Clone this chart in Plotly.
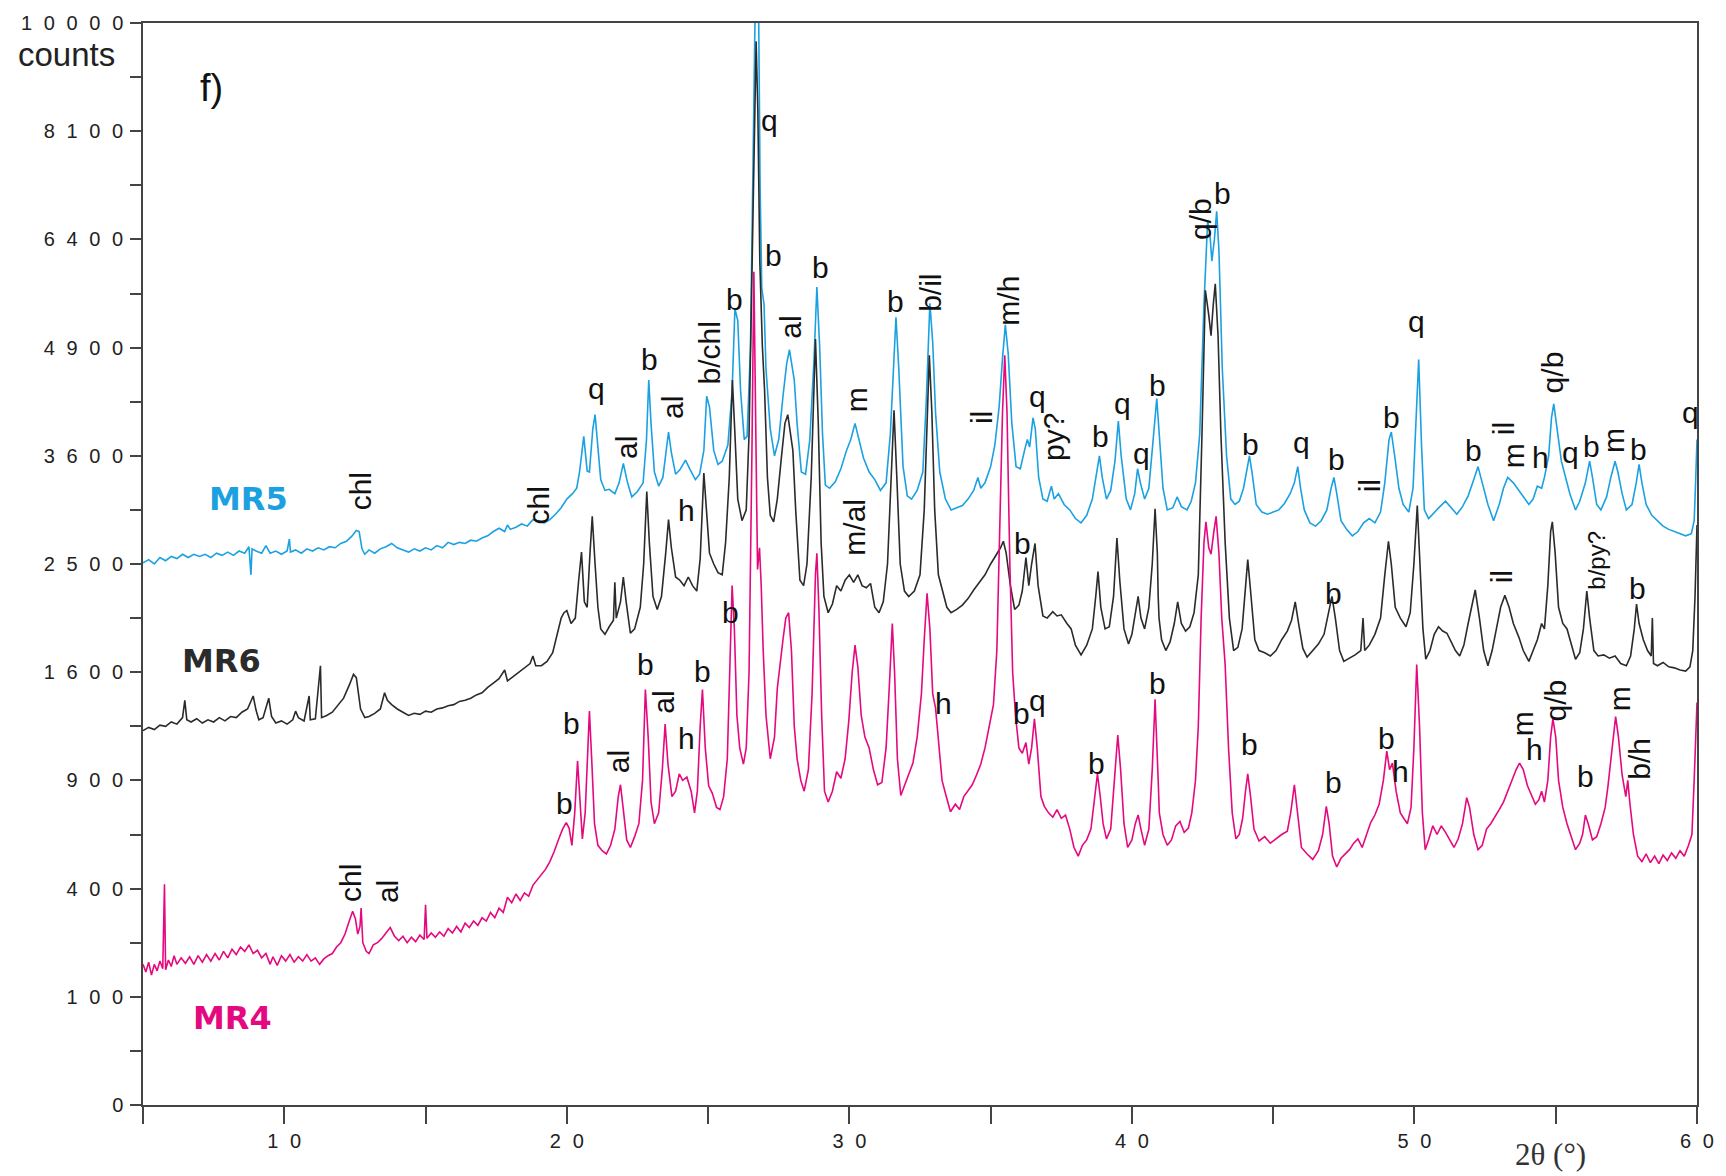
import plotly.graph_objects as go

# 2-theta (deg) and intensity on the square-root scale (sqrt of counts)
mr5 = [(5.0,50.1),(5.2,50.4),(5.4,50.0),(5.6,50.6),(5.8,50.3),(6.0,50.7),(6.2,50.5),(6.4,50.9),(6.6,50.6),(6.8,50.9),(7.0,50.7),(7.2,50.9),(7.4,50.6),(7.6,51.0),(7.8,50.8),(8.0,51.1),(8.2,50.8),(8.4,51.2),(8.6,51.0),(8.75,51.6),(8.82,49.0),(8.86,51.4),(9.0,51.2),(9.2,51.0),(9.35,51.7),(9.5,51.0),(9.7,51.2),(9.9,50.9),(10.1,51.2),(10.18,52.3),(10.22,51.1),(10.4,51.3),(10.6,51.0),(10.8,51.4),(11.0,51.2),(11.2,51.5),(11.4,51.3),(11.6,51.6),(11.8,51.5),(12.0,51.9),(12.2,52.1),(12.4,52.6),(12.55,53.1),(12.65,53.0),(12.75,51.4),(12.85,50.9),(13.0,51.3),(13.2,51.0),(13.4,51.4),(13.6,51.6),(13.8,51.9),(14.0,51.5),(14.2,51.3),(14.4,51.1),(14.6,51.4),(14.8,51.2),(15.0,51.5),(15.2,51.3),(15.4,51.7),(15.6,51.5),(15.8,52.0),(16.0,51.8),(16.2,52.0),(16.4,51.9),(16.6,52.2),(16.8,52.1),(17.0,52.4),(17.2,52.6),(17.4,53.0),(17.6,53.3),(17.8,53.0),(17.9,53.6),(18.0,53.2),(18.2,53.4),(18.4,53.7),(18.6,53.5),(18.8,54.1),(19.0,54.0),(19.2,53.8),(19.4,54.1),(19.6,54.6),(19.8,55.2),(20.0,56.0),(20.2,56.5),(20.35,57.0),(20.45,58.5),(20.6,61.8),(20.72,58.6),(20.8,58.5),(20.92,62.5),(21.0,63.8),(21.1,61.0),(21.2,57.8),(21.35,56.8),(21.5,56.9),(21.7,56.5),(21.85,57.5),(22.0,59.3),(22.15,57.5),(22.3,56.2),(22.5,56.7),(22.7,57.5),(22.82,61.5),(22.9,67.0),(22.98,63.0),(23.1,58.5),(23.25,57.2),(23.4,58.0),(23.52,60.5),(23.6,62.2),(23.7,60.3),(23.85,58.3),(24.0,58.7),(24.2,59.6),(24.35,58.8),(24.55,57.8),(24.7,58.3),(24.85,60.5),(24.95,65.5),(25.05,64.5),(25.2,60.5),(25.35,59.2),(25.5,59.5),(25.7,61.0),(25.85,66.0),(25.95,73.6),(26.05,72.5),(26.15,66.0),(26.28,61.5),(26.38,61.8),(26.5,70.0),(26.6,90.0),(26.68,104.0),(26.78,104.0),(26.84,85.0),(26.9,75.5),(26.98,74.0),(27.05,68.0),(27.2,62.5),(27.35,60.0),(27.5,61.5),(27.65,65.5),(27.78,68.5),(27.88,69.8),(27.95,68.5),(28.05,67.0),(28.15,63.0),(28.3,58.5),(28.45,58.3),(28.6,61.5),(28.75,69.0),(28.85,75.6),(28.95,70.0),(29.05,62.0),(29.15,57.3),(29.3,57.0),(29.5,57.6),(29.7,58.8),(29.9,60.5),(30.05,61.5),(30.2,63.0),(30.3,62.0),(30.5,59.8),(30.7,58.5),(30.9,57.8),(31.1,56.8),(31.3,57.5),(31.45,62.0),(31.58,70.0),(31.65,72.8),(31.75,68.0),(31.9,59.0),(32.05,56.3),(32.2,56.0),(32.4,56.8),(32.6,58.5),(32.72,65.0),(32.85,74.1),(32.95,70.5),(33.05,64.0),(33.2,58.5),(33.4,56.0),(33.6,55.0),(33.8,55.2),(34.0,55.4),(34.2,56.0),(34.4,56.8),(34.55,58.0),(34.65,57.0),(34.8,57.5),(35.0,59.0),(35.15,61.0),(35.3,64.5),(35.42,69.0),(35.52,72.1),(35.62,69.5),(35.75,63.0),(35.9,59.0),(36.05,58.8),(36.2,60.5),(36.3,61.5),(36.38,60.8),(36.5,63.5),(36.58,62.5),(36.7,58.0),(36.85,56.0),(37.0,55.8),(37.15,57.2),(37.25,56.0),(37.4,56.5),(37.6,55.5),(37.8,55.0),(38.0,54.2),(38.2,53.8),(38.4,54.5),(38.6,56.0),(38.75,58.5),(38.85,60.0),(38.95,58.0),(39.1,56.0),(39.25,56.8),(39.4,59.5),(39.52,63.2),(39.62,60.0),(39.8,56.0),(39.95,55.0),(40.1,56.5),(40.2,58.8),(40.3,57.5),(40.45,56.0),(40.6,57.0),(40.75,61.5),(40.88,65.3),(40.98,61.5),(41.1,57.0),(41.25,55.0),(41.45,55.2),(41.6,56.2),(41.75,55.3),(41.95,55.0),(42.1,55.8),(42.25,57.5),(42.4,62.0),(42.55,74.0),(42.68,81.7),(42.76,80.5),(42.83,78.0),(42.92,80.0),(43.0,82.6),(43.08,79.0),(43.2,68.0),(43.35,60.0),(43.5,56.0),(43.65,55.5),(43.8,55.8),(43.95,57.0),(44.08,59.0),(44.16,60.0),(44.25,58.5),(44.4,55.5),(44.6,54.8),(44.8,54.6),(45.0,54.8),(45.2,55.0),(45.4,55.6),(45.6,56.5),(45.75,57.5),(45.87,59.0),(45.97,57.0),(46.1,55.0),(46.3,53.8),(46.5,53.5),(46.7,54.0),(46.9,55.0),(47.05,57.0),(47.15,58.0),(47.25,56.5),(47.4,54.0),(47.6,53.2),(47.8,52.6),(48.0,53.0),(48.2,53.8),(48.4,54.2),(48.6,53.8),(48.8,54.8),(48.95,57.5),(49.1,61.5),(49.18,62.2),(49.3,60.0),(49.45,57.0),(49.6,55.5),(49.8,54.8),(49.95,57.0),(50.05,63.0),(50.15,68.9),(50.25,61.0),(50.35,55.0),(50.5,54.2),(50.7,54.8),(50.9,55.3),(51.1,55.8),(51.3,55.2),(51.5,54.6),(51.7,55.3),(51.9,56.3),(52.1,57.8),(52.25,59.0),(52.4,57.5),(52.6,55.5),(52.8,54.0),(53.0,55.5),(53.15,57.0),(53.3,58.0),(53.5,57.5),(53.7,56.8),(53.9,56.0),(54.05,55.5),(54.2,56.0),(54.35,57.2),(54.5,57.0),(54.6,58.0),(54.75,60.0),(54.85,63.5),(54.93,64.8),(55.05,62.5),(55.2,59.5),(55.35,58.0),(55.5,56.5),(55.7,55.0),(55.85,55.8),(56.05,57.5),(56.2,59.5),(56.3,58.0),(56.45,55.5),(56.6,55.0),(56.8,56.2),(56.95,58.0),(57.1,59.5),(57.2,58.5),(57.35,56.5),(57.5,55.0),(57.7,55.5),(57.85,57.5),(57.95,59.2),(58.05,57.5),(58.2,55.5),(58.4,54.5),(58.6,54.0),(58.8,53.5),(59.0,53.2),(59.2,53.0),(59.4,52.8),(59.6,52.6),(59.8,52.8),(59.9,54.0),(59.95,57.5),(60.0,61.5)]

mr6 = [(5.0,34.6),(5.2,34.9),(5.4,34.7),(5.6,35.1),(5.8,35.0),(6.0,35.4),(6.2,35.2),(6.4,35.8),(6.48,37.4),(6.55,35.6),(6.7,35.4),(6.9,35.7),(7.1,35.3),(7.3,35.6),(7.5,35.4),(7.7,35.8),(7.9,35.5),(8.1,35.9),(8.3,35.8),(8.5,36.3),(8.7,36.6),(8.9,37.8),(9.0,36.5),(9.1,35.6),(9.25,35.8),(9.45,37.6),(9.55,35.9),(9.7,35.3),(9.9,35.5),(10.1,35.2),(10.3,35.6),(10.4,36.4),(10.5,35.8),(10.7,35.5),(10.88,37.8),(10.92,35.6),(11.1,35.7),(11.28,40.6),(11.32,35.8),(11.5,36.0),(11.7,36.3),(11.9,36.9),(12.1,37.6),(12.3,38.8),(12.45,39.8),(12.55,39.5),(12.7,36.6),(12.85,35.8),(13.0,35.9),(13.2,36.2),(13.4,36.6),(13.55,38.1),(13.65,37.4),(13.8,37.0),(14.0,36.6),(14.2,36.3),(14.4,36.0),(14.6,36.2),(14.8,36.1),(15.0,36.4),(15.2,36.3),(15.4,36.6),(15.6,36.7),(15.8,36.9),(16.0,37.0),(16.2,37.3),(16.4,37.4),(16.6,37.6),(16.8,37.9),(17.0,38.1),(17.2,38.6),(17.4,39.0),(17.6,39.4),(17.8,40.2),(17.9,39.2),(18.1,39.6),(18.3,40.0),(18.5,40.4),(18.7,40.8),(18.8,41.5),(18.9,40.6),(19.1,40.6),(19.3,41.0),(19.5,41.8),(19.65,43.5),(19.8,45.0),(19.9,45.5),(20.0,45.7),(20.15,44.5),(20.3,45.0),(20.42,48.5),(20.52,51.1),(20.62,46.5),(20.72,46.0),(20.82,51.0),(20.9,54.4),(21.0,50.0),(21.1,46.0),(21.2,44.0),(21.35,43.5),(21.5,44.2),(21.65,44.8),(21.7,48.3),(21.75,45.0),(21.9,46.5),(22.0,48.8),(22.1,46.5),(22.25,43.6),(22.4,44.0),(22.6,46.0),(22.72,50.0),(22.83,56.7),(22.92,52.0),(23.05,47.0),(23.2,45.8),(23.35,47.0),(23.5,51.0),(23.6,54.1),(23.7,51.5),(23.85,48.8),(24.0,48.5),(24.15,48.0),(24.3,48.8),(24.45,48.0),(24.6,47.5),(24.72,50.5),(24.85,58.4),(24.95,55.0),(25.05,51.0),(25.2,50.0),(25.35,49.2),(25.5,49.0),(25.62,52.0),(25.75,58.0),(25.86,67.0),(25.95,62.0),(26.05,56.0),(26.2,54.0),(26.35,55.0),(26.45,62.0),(26.55,78.0),(26.65,93.0),(26.7,98.3),(26.76,92.0),(26.83,78.0),(26.92,70.2),(27.0,66.0),(27.1,58.0),(27.2,54.5),(27.32,53.9),(27.45,56.0),(27.6,60.0),(27.72,63.0),(27.82,63.8),(27.9,62.5),(28.0,60.5),(28.1,55.0),(28.25,48.5),(28.38,48.0),(28.5,50.0),(28.65,58.0),(28.8,70.8),(28.9,63.0),(29.0,52.0),(29.1,47.0),(29.25,45.5),(29.4,46.3),(29.55,48.0),(29.7,47.5),(29.85,48.5),(30.0,49.0),(30.15,48.3),(30.3,49.0),(30.45,48.0),(30.6,47.8),(30.75,48.2),(30.9,46.0),(31.05,45.5),(31.2,46.5),(31.35,50.0),(31.48,58.0),(31.58,64.2),(31.68,58.0),(31.8,50.0),(31.95,47.5),(32.1,47.0),(32.3,47.5),(32.5,49.0),(32.65,55.0),(32.78,66.0),(32.83,69.3),(32.92,64.0),(33.02,55.0),(33.15,49.0),(33.3,47.5),(33.45,46.0),(33.6,45.5),(33.8,45.8),(34.0,46.2),(34.2,46.8),(34.4,47.6),(34.6,48.3),(34.8,49.0),(35.0,50.0),(35.2,50.8),(35.35,51.5),(35.45,52.1),(35.55,51.0),(35.7,48.0),(35.85,45.8),(36.0,46.2),(36.12,47.5),(36.25,50.6),(36.35,48.0),(36.45,50.0),(36.57,51.9),(36.68,48.0),(36.85,45.2),(37.0,45.0),(37.2,45.6),(37.35,45.2),(37.5,45.3),(37.7,44.5),(37.85,44.0),(38.0,42.5),(38.2,41.6),(38.4,42.5),(38.6,44.0),(38.72,47.0),(38.8,49.3),(38.9,46.0),(39.05,44.0),(39.2,44.2),(39.35,47.0),(39.47,52.4),(39.57,48.5),(39.72,44.0),(39.88,42.6),(40.0,43.5),(40.12,45.5),(40.22,47.0),(40.32,45.0),(40.45,44.0),(40.6,46.0),(40.72,50.0),(40.82,55.1),(40.9,51.0),(40.93,47.0),(40.96,45.0),(41.05,43.0),(41.2,42.0),(41.35,42.8),(41.5,44.5),(41.62,46.5),(41.75,44.5),(41.9,43.8),(42.05,44.2),(42.2,45.5),(42.35,49.0),(42.48,62.0),(42.6,75.3),(42.72,73.0),(42.8,71.1),(42.88,74.0),(42.95,75.9),(43.05,71.0),(43.15,62.0),(43.3,52.0),(43.45,45.0),(43.6,42.0),(43.75,42.3),(43.9,44.0),(44.02,48.0),(44.1,50.4),(44.2,47.5),(44.35,43.0),(44.5,42.0),(44.7,41.8),(44.9,41.5),(45.1,42.0),(45.3,43.0),(45.5,43.8),(45.65,44.8),(45.78,46.5),(45.9,44.5),(46.05,42.2),(46.2,41.4),(46.4,42.0),(46.6,42.6),(46.8,43.5),(46.95,45.5),(47.08,47.0),(47.2,45.0),(47.35,42.0),(47.5,41.0),(47.7,41.3),(47.9,41.6),(48.1,42.0),(48.18,45.0),(48.24,42.0),(48.4,42.5),(48.6,43.5),(48.8,45.0),(48.95,49.0),(49.08,52.1),(49.18,50.0),(49.32,46.0),(49.5,45.0),(49.7,44.2),(49.85,45.5),(49.98,50.0),(50.1,55.4),(50.2,50.0),(50.3,44.0),(50.4,41.2),(50.55,42.0),(50.7,43.5),(50.85,44.2),(51.0,43.8),(51.15,43.6),(51.3,42.8),(51.45,42.0),(51.6,41.5),(51.75,42.5),(51.9,44.5),(52.05,46.5),(52.15,47.6),(52.3,45.0),(52.45,42.0),(52.6,40.6),(52.75,42.0),(52.9,44.0),(53.05,46.0),(53.2,47.1),(53.35,46.0),(53.5,44.5),(53.7,43.2),(53.85,42.0),(54.05,41.0),(54.2,42.0),(54.35,43.0),(54.5,44.5),(54.6,44.0),(54.72,48.0),(54.82,53.0),(54.88,53.9),(54.98,51.0),(55.1,46.0),(55.25,44.5),(55.4,44.0),(55.55,42.5),(55.7,41.2),(55.85,41.8),(55.98,44.0),(56.1,47.5),(56.2,45.0),(56.35,42.0),(56.5,41.5),(56.7,41.6),(56.9,41.3),(57.1,41.5),(57.3,40.8),(57.5,40.6),(57.65,41.5),(57.78,44.0),(57.86,46.3),(57.95,44.5),(58.1,43.0),(58.25,42.0),(58.38,41.5),(58.42,45.0),(58.46,40.8),(58.6,40.6),(58.8,40.9),(59.0,40.5),(59.2,40.4),(59.4,40.2),(59.6,40.1),(59.75,40.5),(59.85,42.0),(59.93,47.0),(60.0,53.6)]

mr4 = [(5.0,13.0),(5.1,12.3),(5.2,13.2),(5.3,12.0),(5.4,13.0),(5.5,12.4),(5.6,13.3),(5.7,12.6),(5.76,20.4),(5.8,12.5),(5.9,13.4),(6.0,12.8),(6.1,13.8),(6.2,13.0),(6.35,13.6),(6.5,13.1),(6.65,13.7),(6.8,13.0),(6.95,13.8),(7.1,13.2),(7.25,13.9),(7.4,13.3),(7.55,14.0),(7.7,13.4),(7.85,14.2),(8.0,13.6),(8.15,14.4),(8.3,13.9),(8.45,14.6),(8.6,14.2),(8.75,14.8),(8.9,14.0),(9.05,14.3),(9.2,13.6),(9.35,14.0),(9.5,13.0),(9.6,13.7),(9.75,12.9),(9.9,13.8),(10.05,13.3),(10.2,13.9),(10.35,13.2),(10.5,13.7),(10.65,13.3),(10.8,13.9),(10.95,13.3),(11.1,13.6),(11.25,13.0),(11.4,13.5),(11.55,13.8),(11.7,14.0),(11.85,14.6),(12.0,15.0),(12.15,15.8),(12.3,17.0),(12.42,17.9),(12.52,17.2),(12.6,15.8),(12.68,16.5),(12.72,18.2),(12.78,15.0),(12.9,14.2),(13.0,14.0),(13.15,14.8),(13.3,15.0),(13.45,15.4),(13.6,15.9),(13.75,16.4),(13.9,15.6),(14.05,15.2),(14.2,15.6),(14.35,15.0),(14.5,15.5),(14.65,15.1),(14.8,15.7),(14.95,15.3),(15.0,18.5),(15.05,15.4),(15.2,15.9),(15.35,15.5),(15.5,16.0),(15.65,15.6),(15.8,16.3),(15.95,15.9),(16.1,16.5),(16.25,16.0),(16.4,16.8),(16.55,16.4),(16.7,17.0),(16.85,16.6),(17.0,17.3),(17.15,17.0),(17.3,17.8),(17.45,17.3),(17.6,18.2),(17.75,17.8),(17.9,19.2),(18.05,18.7),(18.2,19.5),(18.35,18.9),(18.5,19.6),(18.65,19.3),(18.8,20.3),(18.95,20.8),(19.1,21.3),(19.25,21.8),(19.4,22.5),(19.55,23.4),(19.7,24.5),(19.85,25.5),(19.98,26.1),(20.08,25.6),(20.18,24.0),(20.28,27.0),(20.38,31.8),(20.46,28.0),(20.55,24.6),(20.65,27.0),(20.75,33.0),(20.8,36.4),(20.88,32.0),(20.98,26.0),(21.1,24.0),(21.25,23.5),(21.4,23.2),(21.55,24.0),(21.7,25.5),(21.82,28.5),(21.9,29.6),(22.0,27.5),(22.12,24.5),(22.25,23.8),(22.4,24.8),(22.55,26.0),(22.68,30.0),(22.78,38.4),(22.88,34.0),(22.98,28.0),(23.1,26.0),(23.25,27.0),(23.38,31.0),(23.48,35.2),(23.58,31.5),(23.72,28.5),(23.85,29.0),(23.98,30.6),(24.1,30.0),(24.25,30.3),(24.4,29.0),(24.52,27.0),(24.62,29.0),(24.72,35.0),(24.8,38.4),(24.9,33.0),(25.02,29.5),(25.15,28.8),(25.3,27.5),(25.42,27.3),(25.55,28.5),(25.68,32.0),(25.78,42.0),(25.85,48.0),(25.93,44.0),(26.02,36.0),(26.12,33.0),(26.25,31.5),(26.35,33.0),(26.45,40.0),(26.55,60.0),(26.62,77.0),(26.7,60.0),(26.75,49.5),(26.82,51.5),(26.88,48.0),(26.95,42.0),(27.05,36.0),(27.2,32.0),(27.35,34.0),(27.45,38.5),(27.55,41.0),(27.65,43.0),(27.75,45.0),(27.85,45.5),(27.95,42.0),(28.05,35.0),(28.15,32.0),(28.28,30.0),(28.4,29.0),(28.55,31.0),(28.68,38.0),(28.8,49.0),(28.85,51.0),(28.92,46.0),(29.02,36.0),(29.12,29.0),(29.25,28.0),(29.4,29.0),(29.55,30.8),(29.7,30.2),(29.85,32.0),(29.98,35.5),(30.1,40.0),(30.2,42.5),(30.3,40.5),(30.42,36.0),(30.55,34.0),(30.7,33.0),(30.85,31.0),(31.0,29.6),(31.15,29.8),(31.3,33.0),(31.42,39.0),(31.52,44.5),(31.6,40.0),(31.7,32.0),(31.82,28.6),(31.95,29.5),(32.1,30.5),(32.25,31.6),(32.4,34.0),(32.55,38.0),(32.65,43.0),(32.75,47.3),(32.85,44.0),(32.95,38.0),(33.05,36.7),(33.15,34.0),(33.28,30.0),(33.42,28.6),(33.58,27.1),(33.75,27.8),(33.9,27.3),(34.05,28.5),(34.2,29.0),(34.35,29.6),(34.5,30.5),(34.65,31.5),(34.8,33.0),(34.95,35.0),(35.1,37.0),(35.22,42.0),(35.32,52.0),(35.42,64.0),(35.5,69.3),(35.58,64.0),(35.68,50.0),(35.78,40.0),(35.88,36.0),(36.0,33.0),(36.12,32.5),(36.25,33.5),(36.35,31.5),(36.45,33.0),(36.55,35.7),(36.65,33.0),(36.78,28.5),(36.9,27.6),(37.05,27.0),(37.2,26.6),(37.35,27.3),(37.5,26.5),(37.65,26.8),(37.8,25.5),(37.95,23.8),(38.1,23.0),(38.25,24.0),(38.4,24.5),(38.55,25.5),(38.68,28.5),(38.78,30.6),(38.88,28.5),(38.98,26.0),(39.1,24.6),(39.25,25.5),(39.38,30.0),(39.5,34.2),(39.6,31.0),(39.72,26.0),(39.85,23.8),(40.0,24.5),(40.12,26.0),(40.22,26.8),(40.32,25.5),(40.45,24.0),(40.6,25.5),(40.72,31.0),(40.82,37.5),(40.9,33.0),(40.93,30.0),(40.97,27.0),(41.1,25.0),(41.25,24.0),(41.4,24.5),(41.55,25.8),(41.7,26.2),(41.85,25.2),(42.0,25.6),(42.12,27.0),(42.25,30.0),(42.35,35.0),(42.45,45.0),(42.55,52.0),(42.62,53.9),(42.72,51.5),(42.8,50.9),(42.9,53.0),(42.98,54.4),(43.08,51.0),(43.18,45.0),(43.3,40.7),(43.42,33.0),(43.55,27.0),(43.68,24.6),(43.8,25.0),(43.92,26.5),(44.02,29.0),(44.1,30.6),(44.2,28.5),(44.32,25.5),(44.5,24.4),(44.7,24.8),(44.9,24.2),(45.1,24.6),(45.3,25.0),(45.5,25.3),(45.62,27.0),(45.75,29.6),(45.85,27.5),(46.0,23.8),(46.2,23.2),(46.4,22.7),(46.6,23.5),(46.75,25.0),(46.88,27.6),(46.98,26.0),(47.1,23.0),(47.25,22.0),(47.4,22.8),(47.55,23.2),(47.7,23.6),(47.85,24.2),(48.0,24.6),(48.15,23.8),(48.3,25.0),(48.45,26.1),(48.6,26.8),(48.75,27.8),(48.9,30.0),(49.02,32.7),(49.12,31.0),(49.22,31.6),(49.35,29.0),(49.5,27.0),(49.62,26.5),(49.75,26.0),(49.88,27.5),(49.98,33.0),(50.08,40.7),(50.18,35.0),(50.28,27.0),(50.38,23.6),(50.5,24.5),(50.65,25.8),(50.8,25.0),(50.95,25.8),(51.1,25.2),(51.25,24.5),(51.4,23.8),(51.55,24.6),(51.7,26.0),(51.85,28.4),(51.95,27.5),(52.1,25.0),(52.25,23.6),(52.4,24.0),(52.55,25.5),(52.7,26.0),(52.85,26.6),(53.0,27.3),(53.15,28.0),(53.3,29.0),(53.45,30.0),(53.6,31.0),(53.72,31.6),(53.85,31.0),(54.0,29.5),(54.15,28.5),(54.28,27.8),(54.4,28.2),(54.5,29.0),(54.6,28.0),(54.72,30.0),(54.82,34.0),(54.9,35.7),(55.0,34.0),(55.1,30.0),(55.25,27.5),(55.4,26.0),(55.55,24.8),(55.7,23.6),(55.85,24.2),(55.95,25.0),(56.05,26.8),(56.15,26.0),(56.3,24.5),(56.45,24.8),(56.6,26.0),(56.75,27.5),(56.85,29.5),(56.95,32.0),(57.05,34.5),(57.12,35.9),(57.22,34.0),(57.35,30.5),(57.48,28.5),(57.55,30.0),(57.62,28.0),(57.75,25.0),(57.9,23.0),(58.05,22.5),(58.2,23.2),(58.35,22.4),(58.5,23.0),(58.65,22.3),(58.8,23.1),(58.95,22.6),(59.1,23.3),(59.25,22.8),(59.4,23.5),(59.55,23.0),(59.7,24.0),(59.82,25.0),(59.9,30.0),(59.96,35.0),(60.0,37.2)]

series_names = ["MR5", "MR6", "MR4"]
series_colors = ["#1BA1E2", "#2B2B2B", "#E5097F"]

y_tick_counts = [0, 100, 400, 900, 1600, 2500, 3600, 4900, 6400, 8100, 10000]
x_tick_values = [10, 20, 30, 40, 50, 60]

# mineral labels: (text, 2theta, sqrt-counts, rotated)
peak_labels = [
    ("chl", 12.71, 56.7, True), ("chl", 19.01, 55.4, True), ("q", 21.04, 66.2, False),
    ("al", 22.09, 60.8, True), ("b", 22.94, 68.9, False), ("al", 23.72, 64.5, True),
    ("b/chl", 25.05, 69.5, True), ("b", 25.94, 74.4, False), ("q", 27.19, 91.0, False),
    ("b", 27.3, 78.5, False), ("al", 27.89, 71.9, True), ("b", 28.98, 77.4, False),
    ("m", 30.26, 65.2, True), ("b", 31.63, 74.3, False), ("b/il", 32.87, 75.1, True),
    ("il", 34.7, 63.5, True), ("m/h", 35.6, 74.3, True), ("q", 36.65, 65.5, False),
    ("py?", 37.23, 61.7, True), ("b", 38.9, 61.8, False), ("q", 39.68, 64.8, False),
    ("q", 40.34, 60.2, False), ("b", 40.89, 66.5, False), ("q/b", 42.45, 81.9, True),
    ("b", 43.19, 84.2, False), ("b", 44.2, 61.0, False), ("q", 45.99, 61.2, False),
    ("b", 47.23, 59.7, False), ("il", 48.4, 57.2, True), ("b", 49.18, 63.5, False),
    ("q", 50.08, 72.4, False), ("b", 52.1, 60.5, False), ("il", 53.15, 62.5, True),
    ("m", 53.5, 60.0, True), ("h", 54.47, 59.8, False), ("q/b", 54.9, 67.7, True),
    ("q", 55.52, 60.3, False), ("b", 56.27, 60.9, False), ("m", 57.04, 61.4, True),
    ("b", 57.94, 60.6, False), ("q", 59.77, 64.0, False),
    ("h", 24.23, 54.9, False), ("m/al", 30.18, 53.4, True), ("b", 36.14, 51.9, False),
    ("b", 47.12, 47.3, False), ("il", 53.11, 48.8, True), ("b/py?", 56.46, 50.4, True),
    ("b", 57.9, 47.7, False),
    ("chl", 12.32, 20.5, True), ("al", 13.68, 19.7, True), ("b", 19.91, 27.9, False),
    ("b", 20.18, 35.3, False), ("al", 21.82, 31.7, True), ("b", 22.79, 40.7, False),
    ("al", 23.41, 37.2, True), ("h", 24.23, 33.9, False), ("b", 24.81, 40.1, False),
    ("b", 25.79, 45.5, False), ("h", 33.34, 37.1, False), ("b", 36.1, 36.2, False),
    ("q", 36.65, 37.4, False), ("b", 38.75, 31.6, False), ("b", 40.89, 39.0, False),
    ("b", 44.16, 33.3, False), ("b", 47.12, 29.8, False), ("b", 49.02, 33.9, False),
    ("h", 49.49, 30.8, False), ("m", 53.81, 35.2, True), ("h", 54.24, 32.9, False),
    ("q/b", 54.98, 37.4, True), ("b", 56.07, 30.4, False), ("m", 57.24, 37.5, True),
    ("b/h", 57.98, 32.0, True),
]

# series name labels: (2theta, sqrt-counts)
name_positions = [(8.73, 56.0), (7.77, 41.0), (8.16, 8.0)]

SEP = "\u2002\u200a"
def spaced(v):
    return SEP.join(str(v))

fig = go.Figure()
for pts, name, col in zip([mr5, mr6, mr4], series_names, series_colors):
    fig.add_trace(go.Scatter(
        x=[p[0] for p in pts], y=[p[1] for p in pts], mode="lines", name=name,
        line=dict(color=col, width=1.6), showlegend=False, hoverinfo="skip"))

ann = []
for txt, x, y, rot in peak_labels:
    ann.append(dict(x=x, y=y, xref="x", yref="y", text=txt, showarrow=False,
                    xanchor="center", yanchor="middle",
                    textangle=-90 if rot else 0,
                    font=dict(family="Liberation Sans, Arial", size=24 if txt == "b/py?" else 30, color="#111")))
for (x, y), name, col in zip(name_positions, series_names, series_colors):
    ann.append(dict(x=x, y=y, xref="x", yref="y", text="<b>%s</b>" % name, showarrow=False,
                    xanchor="center", yanchor="middle",
                    font=dict(family="DejaVu Sans", size=32, color=col)))
ann.append(dict(x=-0.0495, y=0.9705, xref="paper", yref="paper", text="counts", showarrow=False,
                xanchor="center", yanchor="middle",
                font=dict(family="Liberation Sans, Arial", size=33, color="#222")))
ann.append(dict(x=0.0443, y=0.940, xref="paper", yref="paper", text="f)", showarrow=False,
                xanchor="center", yanchor="middle",
                font=dict(family="Liberation Sans, Arial", size=38, color="#111")))
ann.append(dict(x=0.9055, y=-0.0462, xref="paper", yref="paper", text="2θ (°)", showarrow=False,
                xanchor="center", yanchor="middle",
                font=dict(family="Liberation Serif", size=31, color="#333")))

axis_font = dict(family="Liberation Sans, Arial", size=20, color="#222")
fig.update_layout(
    width=1726, height=1176,
    margin=dict(l=143, r=27, t=16, b=71),
    plot_bgcolor="white", paper_bgcolor="white",
    annotations=ann,
    xaxis=dict(range=[5, 60], showgrid=False, zeroline=False, showline=True, linecolor="#444",
               linewidth=1.5, mirror=True, ticks="outside", ticklen=17, tickwidth=1.5, tickcolor="#444",
               tickvals=x_tick_values, ticktext=[spaced(v) for v in x_tick_values], tickfont=axis_font,
               minor=dict(tickvals=[5, 15, 25, 35, 45, 55], ticks="outside", ticklen=17, tickwidth=1.5,
                          tickcolor="#444", showgrid=False)),
    yaxis=dict(range=[0, 100], showgrid=False, zeroline=False, showline=True, linecolor="#444",
               linewidth=1.5, mirror=True, ticks="outside", ticklen=11, tickwidth=1.5, tickcolor="#444",
               tickvals=[c ** 0.5 for c in y_tick_counts], ticktext=[spaced(c) for c in y_tick_counts],
               tickfont=axis_font, ticklabelstandoff=3,
               minor=dict(tickvals=[5 + 10 * i for i in range(10)], ticks="outside", ticklen=11,
                          tickwidth=1.5, tickcolor="#444", showgrid=False)),
)
fig.write_html("out.html")
